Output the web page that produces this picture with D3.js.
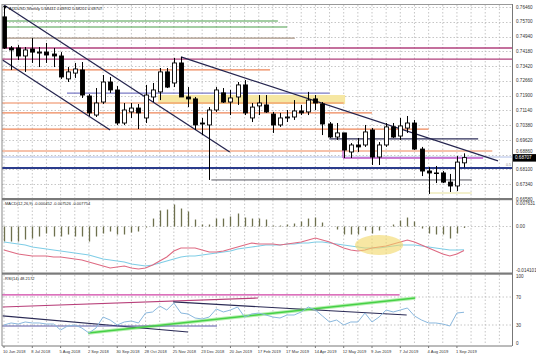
<!DOCTYPE html>
<html><head><meta charset="utf-8">
<script src="https://cdn.jsdelivr.net/npm/d3@7"></script>
<style>
html,body{margin:0;padding:0;background:#fff;}
svg{display:block;font-family:"Liberation Sans",Arial,sans-serif;}
</style></head><body>
<svg id="c" width="536" height="358"></svg>
<script>
// ---------- DATA ----------
const dateLabels = ["10 Jun 2018","8 Jul 2018","5 Aug 2018","2 Sep 2018","30 Sep 2018","28 Oct 2018","25 Nov 2018","23 Dec 2018","20 Jan 2019","17 Feb 2019","17 Mar 2019","14 Apr 2019","12 May 2019","9 Jun 2019","7 Jul 2019","4 Aug 2019","1 Sep 2019"];
const open  = [0.7595,0.7435,0.7435,0.7394,0.7430,0.7409,0.7414,0.7404,0.7394,0.7276,0.7306,0.7322,0.7188,0.7090,0.7157,0.7260,0.7219,0.7049,0.7106,0.7126,0.7075,0.7183,0.7209,0.7312,0.7255,0.7358,0.7183,0.7173,0.7049,0.7039,0.7116,0.7204,0.7157,0.7183,0.7245,0.7075,0.7137,0.7142,0.7095,0.7039,0.7075,0.7080,0.7111,0.7106,0.7173,0.7147,0.7044,0.6977,0.6998,0.6900,0.6936,0.6936,0.7013,0.6874,0.6936,0.7029,0.6982,0.7023,0.7049,0.6915,0.6802,0.6792,0.6792,0.6745,0.6725,0.6844];
const high  = [0.7650,0.7445,0.7450,0.7440,0.7486,0.7440,0.7461,0.7435,0.7414,0.7337,0.7358,0.7363,0.7198,0.7229,0.7296,0.7286,0.7239,0.7152,0.7152,0.7147,0.7245,0.7255,0.7332,0.7332,0.7384,0.7389,0.7234,0.7183,0.7075,0.7131,0.7234,0.7229,0.7219,0.7260,0.7270,0.7152,0.7193,0.7193,0.7106,0.7101,0.7116,0.7167,0.7142,0.7209,0.7193,0.7157,0.7054,0.7049,0.6998,0.6946,0.6972,0.7039,0.7023,0.6951,0.7049,0.7049,0.7075,0.7085,0.7065,0.6926,0.6823,0.6828,0.6802,0.6787,0.6879,0.6893];
const low   = [0.7430,0.7322,0.7373,0.7312,0.7358,0.7337,0.7358,0.7337,0.7276,0.7260,0.7281,0.7178,0.7085,0.7080,0.7147,0.7204,0.7039,0.7039,0.7075,0.7018,0.7049,0.7157,0.7167,0.7229,0.7234,0.7183,0.7131,0.7013,0.6987,0.6756,0.7106,0.7152,0.7090,0.7142,0.7090,0.7054,0.7090,0.7101,0.6998,0.7029,0.7054,0.7065,0.7090,0.7090,0.7116,0.6987,0.6972,0.6962,0.6869,0.6869,0.6900,0.6926,0.6833,0.6833,0.6926,0.6972,0.6962,0.6998,0.6910,0.6776,0.6684,0.6740,0.6740,0.6694,0.6699,0.6820];
const close = [0.7435,0.7425,0.7394,0.7425,0.7414,0.7414,0.7399,0.7394,0.7286,0.7312,0.7327,0.7193,0.7101,0.7152,0.7260,0.7219,0.7049,0.7116,0.7126,0.7101,0.7193,0.7219,0.7312,0.7234,0.7358,0.7183,0.7173,0.7039,0.7044,0.7116,0.7219,0.7157,0.7178,0.7245,0.7101,0.7131,0.7152,0.7106,0.7039,0.7075,0.7080,0.7111,0.7101,0.7167,0.7152,0.7044,0.6977,0.6998,0.6910,0.6936,0.6926,0.7003,0.6874,0.6936,0.7029,0.6977,0.7034,0.7049,0.6915,0.6802,0.6792,0.6789,0.6745,0.6725,0.6848,0.6871];

const macdHist = [-0.00487,-0.00487,-0.00487,-0.00422,-0.00389,-0.00324,-0.00227,-0.00324,-0.00324,-0.00259,-0.00324,-0.00324,-0.00487,-0.00324,-0.00227,-0.00162,-0.00259,-0.00259,-0.00195,-0.00162,-0.00032,0.00259,0.00519,0.00551,0.00714,0.00584,0.00487,0.00227,0.00065,0.00065,0.00259,0.00259,0.00324,0.00422,0.00292,0.00259,0.00259,0.00227,0.00032,0.00032,0.00065,0.00097,0.00162,0.00259,0.00292,0.0013,0.0,-0.00097,-0.00259,-0.00259,-0.00259,-0.0013,-0.00227,-0.0013,0.0,0.00065,0.00195,0.00292,0.00162,-0.00065,-0.00227,-0.00259,-0.00259,-0.00389,-0.00227,-0.00045];
const macdRed = [-0.00762,-0.00827,-0.00892,-0.00924,-0.00957,-0.00957,-0.00957,-0.00989,-0.00989,-0.01022,-0.01054,-0.01087,-0.01151,-0.01216,-0.01281,-0.01346,-0.01314,-0.01281,-0.01346,-0.01378,-0.01346,-0.01249,-0.01119,-0.00989,-0.00795,-0.00697,-0.00697,-0.00697,-0.00762,-0.00827,-0.00827,-0.00795,-0.00730,-0.00665,-0.00600,-0.00535,-0.00568,-0.00568,-0.00568,-0.00600,-0.00568,-0.00535,-0.00503,-0.00438,-0.00373,-0.00438,-0.00503,-0.00600,-0.00697,-0.00762,-0.00795,-0.00762,-0.00697,-0.00665,-0.00633,-0.00568,-0.00503,-0.00438,-0.00503,-0.00600,-0.00697,-0.00795,-0.00892,-0.00957,-0.00892,-0.00775];
const macdCyan = [-0.00503,-0.00535,-0.00568,-0.00600,-0.00665,-0.00697,-0.00730,-0.00762,-0.00795,-0.00827,-0.00860,-0.00892,-0.00924,-0.00989,-0.01054,-0.01087,-0.01119,-0.01151,-0.01216,-0.01249,-0.01281,-0.01249,-0.01184,-0.01119,-0.01054,-0.00989,-0.00957,-0.00957,-0.00924,-0.00892,-0.00860,-0.00827,-0.00795,-0.00730,-0.00697,-0.00665,-0.00633,-0.00600,-0.00600,-0.00600,-0.00568,-0.00568,-0.00535,-0.00535,-0.00503,-0.00503,-0.00535,-0.00568,-0.00600,-0.00633,-0.00665,-0.00697,-0.00697,-0.00697,-0.00665,-0.00633,-0.00600,-0.00600,-0.00600,-0.00633,-0.00665,-0.00697,-0.00730,-0.00762,-0.00762,-0.00753];
const rsi = [30.0,32.9,31.4,34.3,32.9,32.9,31.4,31.4,22.9,28.6,30.0,25.7,18.6,25.7,41.4,37.1,30.0,34.3,35.7,32.9,47.1,48.6,57.1,51.4,61.4,47.1,45.7,40.0,38.6,41.4,52.9,48.6,51.4,55.7,41.4,45.7,47.1,44.3,41.4,40.0,44.3,44.3,48.6,55.7,51.4,42.9,34.3,37.1,30.0,34.3,34.3,47.1,34.3,41.4,51.4,48.6,51.4,54.3,42.9,37.1,32.9,32.9,31.4,28.6,47.1,48.2];

const priceTicks = [0.76460,0.75700,0.74940,0.74180,0.73420,0.72660,0.71900,0.71140,0.70380,0.69620,0.68860,0.68100,0.67340,0.66580];
const macdTicks = [0.007631,0,-0.014101];
const macdTickLabels = ["0.007631","0.00","-0.014101"];
const rsiTicks = [100,70,30,0];

// horizontal price levels drawn on the chart (price, from bar, to bar)
const lvlPrice = [0.7574,0.7543,0.7486,0.7435,0.7378,0.7322,0.7203,0.7152,0.7101,0.7018,0.6905,0.6874,0.6818,0.6967,0.6869,0.6756,0.6689];
const lvlFrom  = [-1,-1,-1,-1,-1,-1,8.9,-1,-1,-1,-1,-1,-1,46,47.9,29.3,60.2];
const lvlTo    = [38.7,40,41.1,73,73,37.6,46,48,52,60,69,73,73,67,67.7,66.1,66.1];
// trendlines in (bar, price)
const trendPts = [[[0,0.7656],[31.9,0.6900]],[[-0.2,0.7373],[15,0.7013]],[[25,0.7389],[69.8,0.6854]]];
const zoneBars = [21.8,48.2], zonePrices = [0.7193,0.7147];
const violetTick = [47.9,0.6910,0.6869];
// RSI drawn lines in (bar, rsi)
const rsiLines = [[[-1,72.9],[55.9,72.9]],[[-0.2,55.7],[35.9,68.6]],[[23.9,62.9],[56.9,44.3]],[[-0.2,42.9],[26,20]],[[-1,28.6],[30.1,28.6]],[[11.9,18.6],[58.1,68.6]]];
const macdEllipse = [53,-0.0060,3.4,0.00324];
const header = "AUDUSD,Weekly  0.68441 0.68932 0.68201 0.68707";
const macdLabel = "MACD(12,26,9) -0.000452 -0.007526 -0.007754";
const rsiLabel = "RSI(14) 48.2172";
const lastPrice = "0.68707";

// ---------- SCALES ----------
const svg = d3.select("#c");
const L = 2, R = 512;
const x = d3.scaleLinear().domain([0,65]).range([4,464]);
const yP = d3.scaleLinear().domain([0.6658,0.7646]).range([199,7]);
const yM = d3.scaleLinear().domain([-0.014101,0.007631]).range([270,203]);
const yR = d3.scaleLinear().domain([0,100]).range([346,276]);
const panels = {main:[5,198], macd:[200,272], rsi:[275,345]};

const defs = svg.append("defs");
Object.entries(panels).forEach(([k,[t,b]])=>{
  defs.append("clipPath").attr("id","clip-"+k).append("rect").attr("x",L).attr("y",t).attr("width",R-L).attr("height",b-t);
});
const gMain = svg.append("g").attr("clip-path","url(#clip-main)");
const gMacd = svg.append("g").attr("clip-path","url(#clip-macd)");
const gRsi  = svg.append("g").attr("clip-path","url(#clip-rsi)");

// ---------- GRID ----------
const gridIdx = d3.range(0,73,2);
[[gMain,panels.main],[gMacd,panels.macd],[gRsi,panels.rsi]].forEach(([g,[t,b]])=>{
  g.selectAll(null).data(gridIdx).join("line")
   .attr("x1",d=>x(d)).attr("x2",d=>x(d)).attr("y1",t).attr("y2",b)
   .attr("stroke","#b8b8b8").attr("stroke-width",0.8).attr("stroke-dasharray","1.5,2");
});
gMain.selectAll(null).data(priceTicks).join("line")
  .attr("x1",L).attr("x2",R).attr("y1",d=>Math.round(yP(d))+0.5).attr("y2",d=>Math.round(yP(d))+0.5)
  .attr("stroke","#b8b8b8").attr("stroke-width",0.8).attr("stroke-dasharray","1.5,2");
gMacd.append("line").attr("x1",L).attr("x2",R).attr("y1",yM(0)).attr("y2",yM(0))
  .attr("stroke","#b8b8b8").attr("stroke-width",0.8).attr("stroke-dasharray","1.5,2");
gRsi.selectAll(null).data([70,30]).join("line")
  .attr("x1",L).attr("x2",R).attr("y1",d=>yR(d)).attr("y2",d=>yR(d))
  .attr("stroke","#b8b8b8").attr("stroke-width",0.8).attr("stroke-dasharray","1.5,2");

// ---------- MAIN OBJECTS ----------
gMain.append("rect").attr("x",x(zoneBars[0])).attr("y",yP(zonePrices[0]))
  .attr("width",x(zoneBars[1])-x(zoneBars[0])).attr("height",yP(zonePrices[1])-yP(zonePrices[0]))
  .attr("fill","#f6e7a2");
const lvlColor = ["#4a9e4a","#4a9e4a","#a89484","#b0407c","#b0407c","#ee8658","#7a7ac4","#ee8658","#ee8658","#ee8658","#ee8658","#aebde6","#2b3c8c","#2f2f5a","#c055c8","#55555f","#e8e29a"];
const lvlWidth = [1.2,1.2,1.4,1.4,1.4,1.2,1.2,1.2,1.2,1.2,1.2,1,2,1.2,1.3,1,1.2];
gMain.selectAll(null).data(lvlPrice).join("line")
  .attr("x1",(d,i)=>x(lvlFrom[i])).attr("x2",(d,i)=>x(lvlTo[i]))
  .attr("y1",d=>yP(d)).attr("y2",d=>yP(d))
  .attr("stroke",(d,i)=>lvlColor[i]).attr("stroke-width",(d,i)=>lvlWidth[i]);
gMain.append("line").attr("x1",x(violetTick[0])).attr("x2",x(violetTick[0]))
  .attr("y1",yP(violetTick[1])).attr("y2",yP(violetTick[2])).attr("stroke","#c055c8").attr("stroke-width",1.2);
const line = d3.line().x(d=>x(d[0])).y(d=>yP(d[1]));
gMain.selectAll(null).data(trendPts).join("path").attr("d",line)
  .attr("fill","none").attr("stroke","#25254f").attr("stroke-width",1.3);

// candles
const idx = d3.range(open.length);
gMain.selectAll(null).data(idx).join("line")
  .attr("x1",i=>Math.round(x(i))+0.5).attr("x2",i=>Math.round(x(i))+0.5)
  .attr("y1",i=>yP(high[i])).attr("y2",i=>yP(low[i]))
  .attr("stroke","#000").attr("stroke-width",1);
gMain.selectAll(null).data(idx).join("rect")
  .attr("x",i=>Math.round(x(i))-1.5).attr("width",4)
  .attr("y",i=>yP(Math.max(open[i],close[i])))
  .attr("height",i=>Math.max(0.6,Math.abs(yP(open[i])-yP(close[i]))))
  .attr("fill",i=>close[i]<open[i]?"#000":"#fff")
  .attr("stroke","#000").attr("stroke-width",0.9);

// ---------- MACD ----------
gMacd.selectAll(null).data(idx).join("line")
  .attr("x1",i=>Math.round(x(i))+0.5).attr("x2",i=>Math.round(x(i))+0.5)
  .attr("y1",yM(0)).attr("y2",i=>yM(macdHist[i]))
  .attr("stroke","#6e704e").attr("stroke-width",1.3);
const mline = arr => d3.line().x((d,i)=>x(i)).y(d=>yM(d))(arr);
gMacd.append("path").attr("d",mline(macdCyan)).attr("fill","none").attr("stroke","#7fcde6").attr("stroke-width",1.1);
gMacd.append("path").attr("d",mline(macdRed)).attr("fill","none").attr("stroke","#de6a82").attr("stroke-width",1.1);
gMacd.append("ellipse").attr("cx",x(macdEllipse[0])).attr("cy",yM(macdEllipse[1]))
  .attr("rx",x(macdEllipse[2])-x(0)).attr("ry",yM(-macdEllipse[3])-yM(0))
  .attr("fill","#f2d766").attr("opacity",0.6);

// ---------- RSI ----------
const rsiColor = ["#d043a6","#b8407a","#2a2a55","#2a2a55","#5a5aa6","#46d046"];
const rline = d3.line().x(d=>x(d[0])).y(d=>yR(d[1]));
gRsi.append("path").attr("d",rline(rsiLines[5])).attr("fill","none").attr("stroke","#b6f0b0").attr("stroke-width",3.5);
gRsi.selectAll(null).data(rsiLines).join("path").attr("d",rline)
  .attr("fill","none").attr("stroke",(d,i)=>rsiColor[i]).attr("stroke-width",(d,i)=>i===5?1.6:1.2);
gRsi.append("path").attr("d",d3.line().x((d,i)=>x(i)).y(d=>yR(d))(rsi))
  .attr("fill","none").attr("stroke","#8ab8de").attr("stroke-width",1);

// ---------- FRAME ----------
svg.append("line").attr("x1",L).attr("x2",L).attr("y1",4).attr("y2",346).attr("stroke","#888");
svg.append("line").attr("x1",R+0.5).attr("x2",R+0.5).attr("y1",4).attr("y2",346).attr("stroke","#777");
svg.append("line").attr("x1",L).attr("x2",R).attr("y1",4.5).attr("y2",4.5).attr("stroke","#999");
svg.append("line").attr("x1",L).attr("x2",R).attr("y1",346).attr("y2",346).attr("stroke","#777");
svg.selectAll(null).data([199,273.5]).join("rect").attr("x",L).attr("y",d=>d-1).attr("width",R-L+1).attr("height",2.2).attr("fill","#7a7a7a");

// ---------- AXIS LABELS ----------
const fs = 4.6;
const lastY = yP(close[65]);
svg.selectAll(null).data(priceTicks).join("text")
  .attr("x",516).attr("y",d=>{const y=yP(d)+1.6; return Math.abs(yP(d)-lastY)<6 ? lastY-4.6 : y;})
  .attr("font-size",fs).attr("fill","#333")
  .text(d=>d.toFixed(5));
svg.append("rect").attr("x",513).attr("y",lastY-3.5).attr("width",23).attr("height",7.5).attr("fill","#000");
svg.append("text").attr("x",515).attr("y",lastY+1.8).attr("font-size",fs).attr("fill","#fff").text(lastPrice);
svg.selectAll(null).data(macdTicks).join("text")
  .attr("x",516).attr("y",(d,i)=>yM(d)+1.6).attr("font-size",fs).attr("fill","#333")
  .text((d,i)=>macdTickLabels[i]);
svg.selectAll(null).data(rsiTicks).join("text")
  .attr("x",516).attr("y",d=>Math.min(yR(d)+1.6,345)).attr("font-size",fs).attr("fill","#333")
  .text(d=>d);
svg.selectAll(null).data(dateLabels).join("text")
  .attr("x",(d,i)=>x(i*4)-1).attr("y",353).attr("font-size",4.1).attr("fill","#333")
  .text(d=>d);
svg.selectAll(null).data(dateLabels).join("line")
  .attr("x1",(d,i)=>x(i*4)).attr("x2",(d,i)=>x(i*4)).attr("y1",346).attr("y2",348).attr("stroke","#777");

// panel labels
svg.append("path").attr("d","M3,6 L7,6 L5,9 Z").attr("fill","#000");
svg.append("text").attr("x",9).attr("y",9.5).attr("font-size",4).attr("fill","#222").text(header);
svg.append("text").attr("x",5).attr("y",205).attr("font-size",4).attr("fill","#222").text(macdLabel);
svg.append("text").attr("x",5).attr("y",280).attr("font-size",4).attr("fill","#222").text(rsiLabel);
svg.append("text").attr("x",506).attr("y",yP(0.6818)-2).attr("font-size",3.6).attr("fill","#888").text("0.5");
</script>
</body></html>
